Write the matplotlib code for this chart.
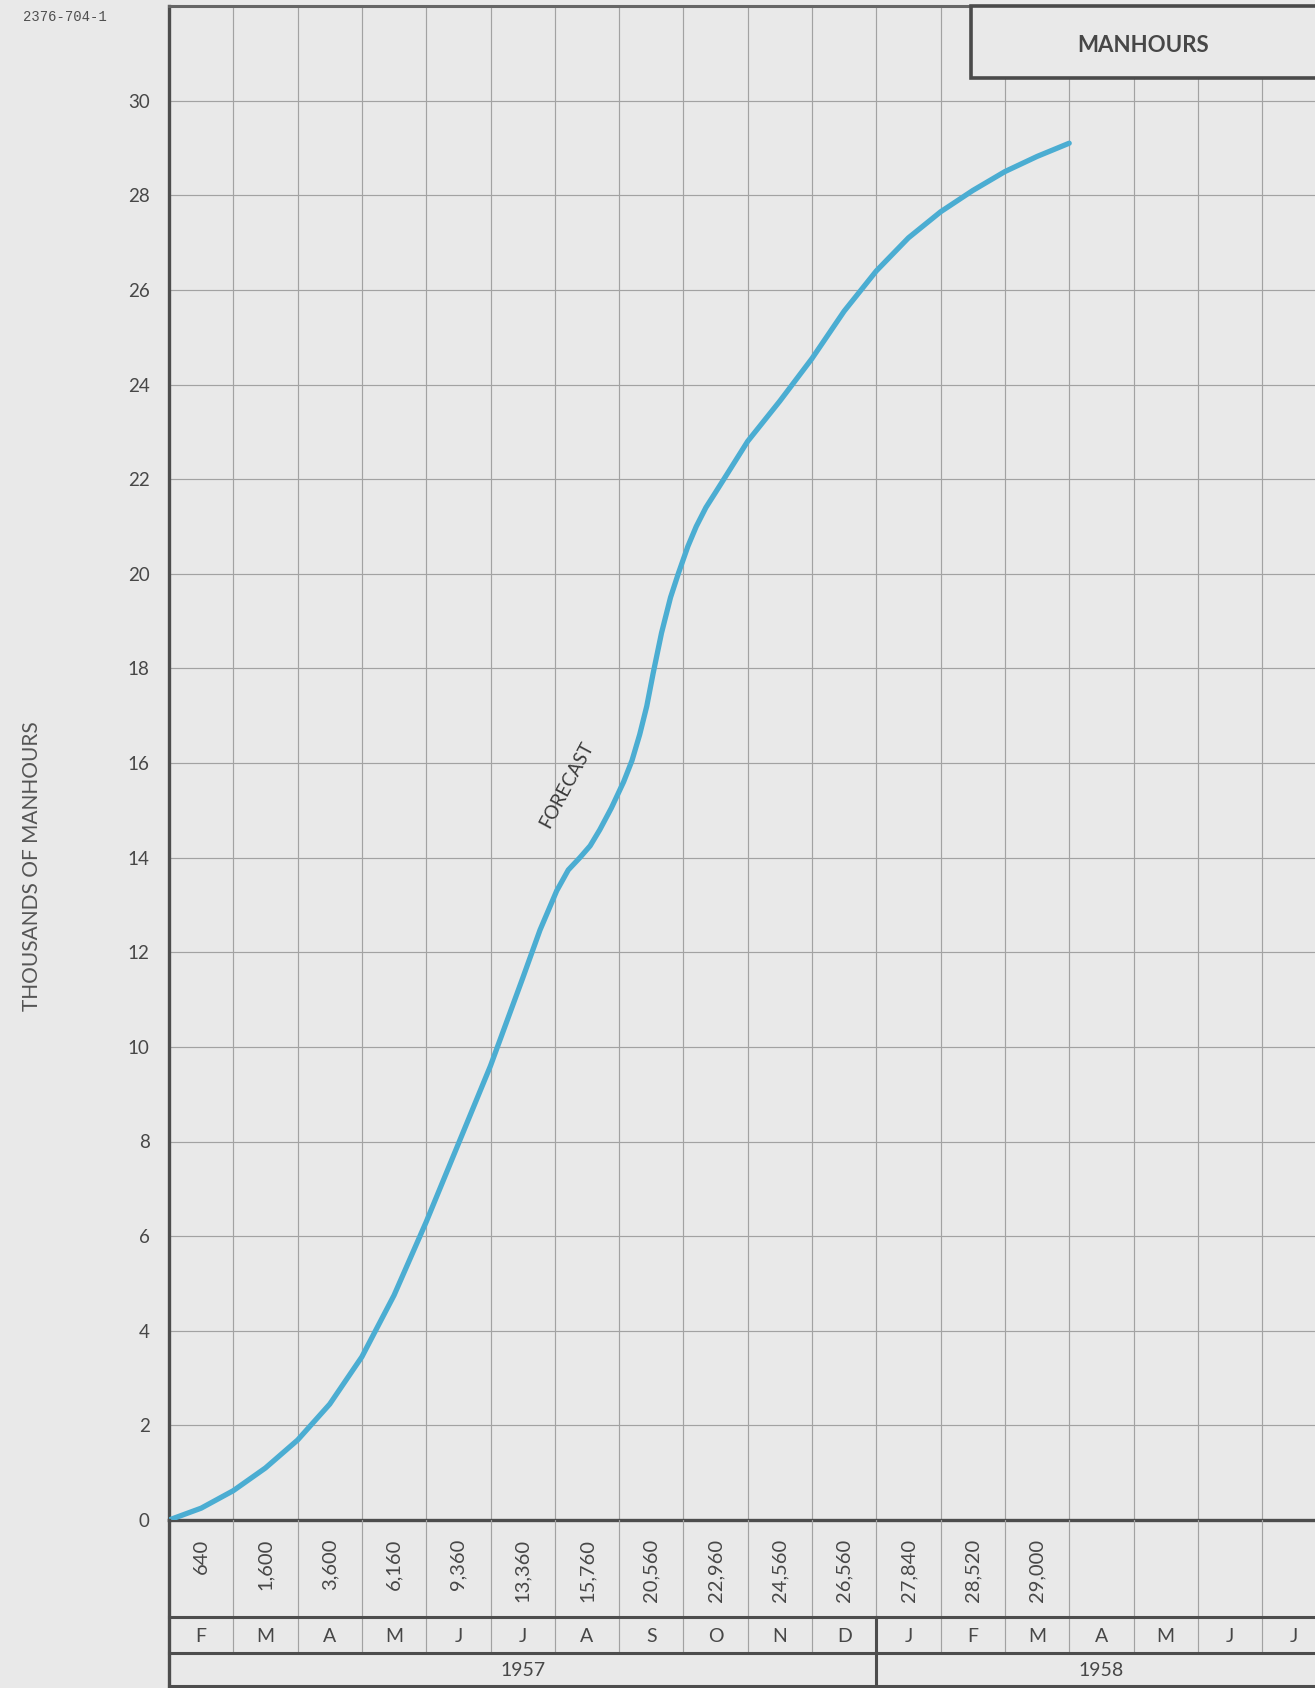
import matplotlib
matplotlib.use("Agg")
import matplotlib.pyplot as plt

# ---------------- data ----------------
months = ['F', 'M', 'A', 'M', 'J', 'J', 'A', 'S', 'O', 'N', 'D',
          'J', 'F', 'M', 'A', 'M', 'J', 'J']
cumulative = [640, 1600, 3600, 6160, 9360, 13360, 15760, 20560,
              22960, 24560, 26560, 27840, 28520, 29000]
years = ['1957', '1958']
year_start = [0, 11]
year_end = [11, 18]
y_ticks = list(range(0, 31, 2))

# forecast curve (month index, thousands of manhours)
curve_x = [0, 0.5, 1, 1.5, 2, 2.5, 3, 3.5, 4, 4.5, 5, 5.5, 5.77, 6.03,
           6.21, 6.39, 6.55, 6.70, 6.88, 7.07, 7.2, 7.32, 7.43, 7.53, 7.66,
           7.8, 7.92, 8.07, 8.2, 8.35, 8.5, 8.63, 9, 9.5, 10, 10.5, 11, 11.5,
           12, 12.5, 13, 13.5, 14]
curve_y = [0, 0.25, 0.62, 1.1, 1.69, 2.45, 3.45, 4.75, 6.3, 7.95, 9.6,
           11.45, 12.47, 13.3, 13.74, 14.0, 14.25, 14.59, 15.05, 15.6, 16.05,
           16.6, 17.2, 17.9, 18.75, 19.5, 20.0, 20.58, 21.0, 21.4, 21.72,
           22.0, 22.8, 23.65, 24.55, 25.55, 26.4, 27.1, 27.65, 28.1, 28.5,
           28.82, 29.1]

# ---------------- style ----------------
BG = '#e9e9e9'
DARK = '#4d4d4d'
GRID = '#a2a2a2'
TXT = '#474747'
BLUE = '#4badd2'
FONT = ['Lato', 'DejaVu Sans']

W, H = 1315, 1688
x0 = 169
colw = 64.3
xmax = (W - x0) / colw
zero_px = 1520
top_px = 6
bottom_px = 1686

fig = plt.figure(figsize=(W / 100, H / 100), dpi=100, facecolor=BG)

# ---------------- main chart ----------------
ax = fig.add_axes([x0 / W, (H - zero_px) / H, (W - x0) / W, (zero_px - top_px) / H])
ax.set_facecolor(BG)
ax.set_xlim(0, xmax)
ax.set_ylim(0, 32)
for s in ax.spines.values():
    s.set_visible(False)
ax.set_xticks([])
ax.set_yticks(y_ticks)
ax.set_yticklabels([str(v) for v in y_ticks], fontsize=13.5, color=TXT, family=FONT)
ax.tick_params(axis='y', length=0, pad=14)

for i in range(1, len(months)):
    ax.axvline(i, color=GRID, lw=0.85, zorder=1)
for v in y_ticks[1:]:
    ax.axhline(v, color=GRID, lw=0.85, zorder=1)

# frame lines
ax.axvline(0, color=DARK, lw=2.4, zorder=3, clip_on=False)
ax.axhline(32, color='#666666', lw=2.2, zorder=3, clip_on=False)
ax.axhline(0, color=DARK, lw=2.4, zorder=3, clip_on=False)

ax.plot(curve_x, curve_y, color=BLUE, lw=3.8, solid_capstyle='round',
        solid_joinstyle='round', zorder=4)

ax.text(6.18, 15.55, 'FORECAST', rotation=62, ha='center', va='center',
        fontsize=13.5, color='#3a3a3a', family=FONT, zorder=5)

# MANHOURS box
box_l = (971 - x0) / colw
box_b = 32 - (78 - top_px) / 47.31
ax.add_patch(plt.Rectangle((box_l, box_b), xmax - box_l + 1, 32 - box_b,
                           facecolor=BG, edgecolor='#4a4a4a', lw=2.6,
                           zorder=6, clip_on=False))
ax.text((1143 - x0) / colw, 32 - (45 - top_px) / 47.31, 'MANHOURS',
        ha='center', va='center', fontsize=16, fontweight='bold',
        color='#474747', family=FONT, zorder=7)

# ---------------- table ----------------
tb = fig.add_axes([x0 / W, (H - bottom_px) / H, (W - x0) / W, (bottom_px - zero_px) / H])
tb.set_facecolor(BG)
tb.set_xlim(0, xmax)
tb.set_ylim(bottom_px - zero_px, 0)
tb.axis('off')
row_val = 97
row_mon = 133
row_end = bottom_px - zero_px

for i in range(1, len(months)):
    is_year = i in year_start
    tb.plot([i, i], [0, row_val], color=GRID, lw=0.85, zorder=1)
    tb.plot([i, i], [row_val, row_mon], color=DARK if is_year else GRID,
            lw=2.2 if is_year else 0.85, zorder=1)
for s in year_start[1:]:
    tb.plot([s, s], [row_mon, row_end], color=DARK, lw=2.2, zorder=2, clip_on=False)
tb.plot([0, 0], [0, row_end], color=DARK, lw=2.4, zorder=3, clip_on=False)
for yy in [row_val, row_mon, row_end]:
    tb.plot([0, xmax], [yy, yy], color=DARK, lw=2.2, zorder=3, clip_on=False)

for i, v in enumerate(cumulative):
    tb.text(i + 0.5, 19, f'{v:,}', rotation=90, ha='center', va='top',
            fontsize=14.5, color=TXT, family=FONT)
for i, m in enumerate(months):
    tb.text(i + 0.5, (row_val + row_mon) / 2 + 1, m, ha='center', va='center',
            fontsize=14, color=TXT, family=FONT)
for y, a, b in zip(years, year_start, year_end):
    tb.text((a + b) / 2, (row_mon + row_end) / 2 + 1, y, ha='center', va='center',
            fontsize=14, color=TXT, family=FONT)

# ---------------- surrounding texts ----------------
fig.text(23 / W, 1 - 17 / H, '2376-704-1', ha='left', va='center',
         fontsize=10, color='#4f4f4f', family=['Liberation Mono', 'DejaVu Sans Mono'])
fig.text(32 / W, 1 - 866 / H, 'THOUSANDS OF MANHOURS', rotation=90,
         ha='center', va='center', fontsize=15, color='#555555', family=FONT)

fig.savefig('out.png', dpi=100, facecolor=BG)
